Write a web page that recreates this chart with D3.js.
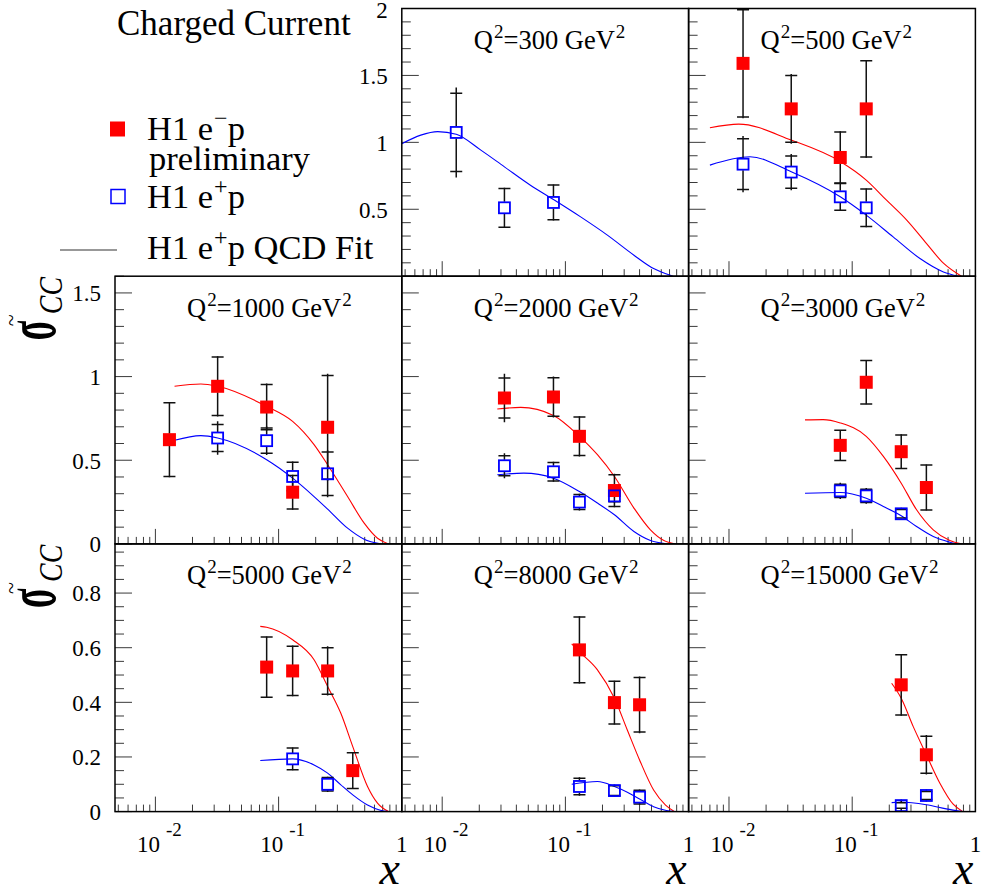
<!DOCTYPE html>
<html>
<head>
<meta charset="utf-8">
<script src="https://cdn.jsdelivr.net/npm/d3@7"></script>
<style>
  body { margin: 0; background: #fff; }
  svg text { font-family: "Liberation Serif", "Times New Roman", serif; fill: #000; }
</style>
</head>
<body>
<svg id="chart" width="985" height="895"></svg>
<script>
// ---- data -------------------------------------------------------------
// Q^2 bins (GeV^2), one panel each, filled after the legend cell of a 3x3 grid
const q2Values = [300, 500, 1000, 2000, 3000, 5000, 8000, 15000];

// y-axis range and ticks for each row of panels
const rowYMax    = [2, 1.6, 0.98];
const rowMajor   = [0.5, 0.5, 0.2];
const rowMinor   = [0.1, 0.1, 0.05];
const rowYLabels = [["0.5", "1", "1.5", "2"], ["0", "0.5", "1", "1.5"], ["0", "0.2", "0.4", "0.6", "0.8"]];

// x-axis (log) range and labelled decades
const xRange = [0.0047, 1];
const xTickValues = [0.01, 0.1, 1];
const xTickBase   = ["10", "10", "1"];
const xTickExp    = ["-2", "-1", ""];

// H1 e-p preliminary: [Q2, x, sigma_CC, stat, total]
const emPoints = [
  [500, 0.013, 1.590, 0.40, 0.41], [500, 0.032, 1.250, 0.25, 0.26], [500, 0.08, 0.887, 0.19, 0.195], [500, 0.13, 1.250, 0.36, 0.365],
  [1000, 0.013, 0.623, 0.22, 0.225], [1000, 0.032, 0.942, 0.175, 0.18], [1000, 0.08, 0.818, 0.135, 0.14], [1000, 0.13, 0.309, 0.10, 0.105], [1000, 0.25, 0.697, 0.31, 0.32],
  [2000, 0.032, 0.872, 0.12, 0.145], [2000, 0.08, 0.878, 0.115, 0.123], [2000, 0.13, 0.643, 0.115, 0.12], [2000, 0.25, 0.319, 0.095, 0.10],
  [3000, 0.08, 0.589, 0.09, 0.092], [3000, 0.13, 0.966, 0.13, 0.132], [3000, 0.25, 0.551, 0.10, 0.104], [3000, 0.40, 0.337, 0.135, 0.137],
  [5000, 0.08, 0.529, 0.11, 0.112], [5000, 0.13, 0.515, 0.09, 0.093], [5000, 0.25, 0.515, 0.085, 0.09], [5000, 0.40, 0.150, 0.065, 0.067],
  [8000, 0.13, 0.592, 0.12, 0.123], [8000, 0.25, 0.399, 0.078, 0.08], [8000, 0.40, 0.391, 0.10, 0.104],
  [15000, 0.25, 0.464, 0.11, 0.113], [15000, 0.40, 0.208, 0.068, 0.072]
];

// H1 e+p: [Q2, x, sigma_CC, stat, total]
const epPoints = [
  [300, 0.013, 1.074, 0.292, 0.336], [300, 0.032, 0.511, 0.145, 0.15], [300, 0.08, 0.551, 0.13, 0.135],
  [500, 0.013, 0.837, 0.19, 0.21], [500, 0.032, 0.778, 0.12, 0.135], [500, 0.08, 0.593, 0.10, 0.105], [500, 0.13, 0.511, 0.14, 0.145],
  [1000, 0.032, 0.633, 0.08, 0.10], [1000, 0.08, 0.617, 0.075, 0.085], [1000, 0.13, 0.403, 0.085, 0.09], [1000, 0.25, 0.419, 0.13, 0.14],
  [2000, 0.032, 0.467, 0.06, 0.075], [2000, 0.08, 0.431, 0.055, 0.06], [2000, 0.13, 0.250, 0.045, 0.05], [2000, 0.25, 0.287, 0.035, 0.04],
  [3000, 0.08, 0.317, 0.04, 0.048], [3000, 0.13, 0.287, 0.04, 0.047], [3000, 0.25, 0.180, 0.025, 0.03],
  [5000, 0.13, 0.193, 0.04, 0.042], [5000, 0.25, 0.100, 0.025, 0.028],
  [8000, 0.13, 0.092, 0.03, 0.034], [8000, 0.25, 0.077, 0.018, 0.02], [8000, 0.40, 0.053, 0.025, 0.028],
  [15000, 0.25, 0.022, 0.01, 0.012], [15000, 0.40, 0.059, 0.015, 0.017]
];

// QCD fit expectation for e-p: [Q2, x, sigma_CC]
const fitEm = [
  [500, 0.007, 1.109], [500, 0.012, 1.136], [500, 0.032, 1.017], [500, 0.08, 0.857], [500, 0.13, 0.718], [500, 0.19, 0.568], [500, 0.277, 0.419], [500, 0.40, 0.246], [500, 0.55, 0.097], [500, 0.77, 0],
  [1000, 0.0143, 0.942], [1000, 0.0234, 0.956], [1000, 0.032, 0.942], [1000, 0.08, 0.822], [1000, 0.13, 0.732], [1000, 0.194, 0.593], [1000, 0.25, 0.473], [1000, 0.363, 0.283], [1000, 0.495, 0.124], [1000, 0.635, 0.034], [1000, 0.78, 0],
  [2000, 0.028, 0.806], [2000, 0.0434, 0.816], [2000, 0.08, 0.768], [2000, 0.13, 0.643], [2000, 0.182, 0.533], [2000, 0.25, 0.403], [2000, 0.36, 0.214], [2000, 0.49, 0.084], [2000, 0.63, 0.02], [2000, 0.77, 0],
  [3000, 0.0414, 0.741], [3000, 0.058, 0.743], [3000, 0.08, 0.723], [3000, 0.13, 0.643], [3000, 0.179, 0.523], [3000, 0.25, 0.363], [3000, 0.333, 0.204], [3000, 0.455, 0.084], [3000, 0.62, 0.02], [3000, 0.77, 0],
  [5000, 0.071, 0.678], [5000, 0.08, 0.675], [5000, 0.13, 0.629], [5000, 0.194, 0.556], [5000, 0.25, 0.458], [5000, 0.32, 0.36], [5000, 0.40, 0.238], [5000, 0.527, 0.092], [5000, 0.635, 0.031], [5000, 0.78, 0],
  [8000, 0.1125, 0.614], [8000, 0.13, 0.585], [8000, 0.182, 0.519], [8000, 0.25, 0.415], [8000, 0.318, 0.299], [8000, 0.40, 0.189], [8000, 0.52, 0.079], [8000, 0.65, 0.024], [8000, 0.77, 0],
  [15000, 0.209, 0.47], [15000, 0.25, 0.415], [15000, 0.313, 0.311], [15000, 0.40, 0.208], [15000, 0.515, 0.104], [15000, 0.66, 0.027], [15000, 0.79, 0]
];

// QCD fit to H1 e+p: [Q2, x, sigma_CC]
const fitEp = [
  [300, 0.0047, 0.99], [300, 0.0067, 1.054], [300, 0.0092, 1.08], [300, 0.013, 1.06], [300, 0.0206, 0.942], [300, 0.032, 0.817], [300, 0.052, 0.68], [300, 0.08, 0.573], [300, 0.133, 0.443], [300, 0.219, 0.307], [300, 0.36, 0.157], [300, 0.52, 0.057], [300, 0.71, 0.007], [300, 0.75, 0],
  [500, 0.007, 0.83], [500, 0.0148, 0.892], [500, 0.032, 0.78], [500, 0.08, 0.593], [500, 0.13, 0.456], [500, 0.215, 0.294], [500, 0.355, 0.132], [500, 0.55, 0.032], [500, 0.73, 0],
  [1000, 0.0143, 0.619], [1000, 0.0234, 0.647], [1000, 0.032, 0.633], [1000, 0.08, 0.503], [1000, 0.13, 0.393], [1000, 0.194, 0.283], [1000, 0.25, 0.208], [1000, 0.363, 0.094], [1000, 0.495, 0.028], [1000, 0.67, 0],
  [2000, 0.028, 0.413], [2000, 0.046, 0.423], [2000, 0.08, 0.393], [2000, 0.13, 0.313], [2000, 0.182, 0.244], [2000, 0.25, 0.174], [2000, 0.36, 0.074], [2000, 0.49, 0.02], [2000, 0.66, 0],
  [3000, 0.0414, 0.303], [3000, 0.08, 0.307], [3000, 0.13, 0.273], [3000, 0.179, 0.224], [3000, 0.25, 0.168], [3000, 0.333, 0.104], [3000, 0.455, 0.044], [3000, 0.62, 0.01], [3000, 0.70, 0],
  [5000, 0.071, 0.187], [5000, 0.13, 0.193], [5000, 0.194, 0.171], [5000, 0.25, 0.141], [5000, 0.32, 0.098], [5000, 0.40, 0.061], [5000, 0.527, 0.024], [5000, 0.67, 0.005], [5000, 0.78, 0],
  [8000, 0.1125, 0.10], [8000, 0.182, 0.11], [8000, 0.25, 0.092], [8000, 0.318, 0.071], [8000, 0.40, 0.046], [8000, 0.52, 0.018], [8000, 0.66, 0.004], [8000, 0.77, 0],
  [15000, 0.209, 0.033], [15000, 0.25, 0.035], [15000, 0.40, 0.025], [15000, 0.58, 0.01], [15000, 0.79, 0]
];

// ---- layout -----------------------------------------------------------
const X0 = 115, COLW = 286.8, Y0 = 8.5, ROWH = 267.7;
const RED = "#ff0000", BLUE = "#0000ff";
const svg = d3.select("#chart");
const defs = svg.append("defs");

// text with raised parts; parts: [[text, isSuperscript], ...]
function supText(sel, size, parts) {
  const supSize = Math.round(size * 0.7), rise = Math.round(size * 0.42);
  parts.forEach(([t, sup], i) => {
    const ts = sel.append("tspan").text(t);
    if (sup) ts.attr("font-size", supSize).attr("dy", -rise).attr("dx", 1);
    else if (i > 0 && parts[i - 1][1]) ts.attr("dy", rise);
  });
}

q2Values.forEach((q2, i) => {
  const cell = i + 1;
  const row = Math.floor(cell / 3), col = cell % 3;
  const left = X0 + col * COLW, right = left + COLW;
  const top = Y0 + row * ROWH, bottom = top + ROWH;

  const x = d3.scaleLog().domain(xRange).range([left, right]);
  const y = d3.scaleLinear().domain([0, rowYMax[row]]).range([bottom, top]);
  const g = svg.append("g");

  const clipId = "clip" + i;
  defs.append("clipPath").attr("id", clipId)
    .append("rect").attr("x", left).attr("y", top).attr("width", COLW).attr("height", ROWH);

  // y ticks (left side, pointing inward)
  const ymax = rowYMax[row];
  const minorY = d3.range(0, ymax + 1e-6, rowMinor[row]);
  const ticks = g.append("g").attr("stroke", "#3a3a3a").attr("stroke-width", 1);
  minorY.forEach(v => {
    const major = Math.abs(v / rowMajor[row] - Math.round(v / rowMajor[row])) < 1e-6;
    ticks.append("line").attr("x1", left).attr("x2", left + (major ? 17 : 9))
      .attr("y1", y(v)).attr("y2", y(v));
  });

  // x ticks (bottom, pointing inward)
  [0.001, 0.01, 0.1].forEach(d => {
    d3.range(1, 10).forEach(k => {
      const v = d * k;
      if (v < xRange[0] || v >= xRange[1]) return;
      const major = k === 1;
      ticks.append("line").attr("x1", x(v)).attr("x2", x(v))
        .attr("y1", bottom).attr("y2", bottom - (major ? 15 : 7));
    });
  });

  // y tick labels on the first panel of each row
  const firstInRow = (row === 0 && col === 1) || (row > 0 && col === 0);
  if (firstInRow) {
    rowYLabels[row].forEach(lbl => {
      g.append("text").attr("x", left - 14).attr("y", Math.max(y(+lbl), 10)).attr("dy", "0.36em")
        .attr("text-anchor", "end").attr("font-size", 23).text(lbl);
    });
  }

  // x tick labels and axis title on the bottom row
  if (row === 2) {
    xTickValues.forEach((v, k) => {
      const t = g.append("text").attr("x", x(v) + (xTickExp[k] ? 4 : 0)).attr("y", 852)
        .attr("text-anchor", "middle").attr("font-size", 23);
      t.append("tspan").text(xTickBase[k]);
      if (xTickExp[k]) t.append("tspan").attr("font-size", 19).attr("dx", 6).attr("dy", -16).text(xTickExp[k]);
    });
    g.append("text").attr("x", right - 2).attr("y", 884).attr("text-anchor", "end")
      .attr("font-size", 46).attr("font-style", "italic").text("x");
  }

  // panel title
  const title = g.append("text").attr("x", left + 72).attr("y", top + 40.5).attr("font-size", 26.5);
  supText(title, 26.5, [["Q", false], ["2", true], ["=" + q2 + " GeV", false], ["2", true]]);

  const plot = g.append("g").attr("clip-path", `url(#${clipId})`);
  const line = d3.line().x(d => x(d[1])).y(d => y(d[2])).curve(d3.curveMonotoneX);

  // fit curves
  [[fitEm, RED], [fitEp, BLUE]].forEach(([rows, color]) => {
    const pts = rows.filter(r => r[0] === q2);
    if (pts.length) plot.append("path").datum(pts).attr("d", line)
      .attr("fill", "none").attr("stroke", color).attr("stroke-width", 1.1);
  });

  // error bars: caps mark the statistical error, the line the total error
  const half = 6;
  [emPoints, epPoints].forEach(rows => {
    rows.filter(r => r[0] === q2).forEach(r => {
      const px = x(r[1]), py = y(r[2]);
      const eb = plot.append("g").attr("stroke", "#111").attr("stroke-width", 1.5);
      eb.append("line").attr("x1", px).attr("x2", px).attr("y1", y(r[2] + r[4])).attr("y2", py - half);
      eb.append("line").attr("x1", px).attr("x2", px).attr("y1", py + half).attr("y2", y(r[2] - r[4]));
      [r[2] + r[3], r[2] - r[3]].forEach(v => {
        eb.append("line").attr("x1", px - 6).attr("x2", px + 6).attr("y1", y(v)).attr("y2", y(v));
      });
    });
  });

  // markers
  plot.selectAll(".em").data(emPoints.filter(r => r[0] === q2)).join("rect")
    .attr("x", d => x(d[1]) - 6.5).attr("y", d => y(d[2]) - 6.5)
    .attr("width", 13).attr("height", 13).attr("fill", RED);
  plot.selectAll(".ep").data(epPoints.filter(r => r[0] === q2)).join("rect")
    .attr("x", d => x(d[1]) - 5.5).attr("y", d => y(d[2]) - 5.5)
    .attr("width", 11).attr("height", 11).attr("fill", "none")
    .attr("stroke", BLUE).attr("stroke-width", 1.8);

  // frame
  g.append("rect").attr("x", left).attr("y", top).attr("width", COLW).attr("height", ROWH)
    .attr("fill", "none").attr("stroke", "#000").attr("stroke-width", 1.5);
});

// ---- y-axis titles ----------------------------------------------------
[1, 2].forEach(row => {
  const top = Y0 + row * ROWH;
  const t = svg.append("g").attr("transform", `translate(55,${top + 64}) rotate(-90)`);
  t.append("text").attr("x", 0).attr("y", 0).attr("font-size", 72).attr("font-weight", "bold")
    .attr("transform", "scale(0.5,1)").text("σ");
  t.append("text").attr("x", 14).attr("y", -37).attr("font-size", 22).text("~");
  t.append("text").attr("x", 26).attr("y", 7).attr("font-size", 34).attr("font-style", "italic")
    .attr("transform", "translate(26,0) scale(0.82,1) translate(-26,0)").text("CC");
});

// ---- legend -----------------------------------------------------------
const lg = svg.append("g");
const LF = 34.5;
lg.append("text").attr("x", 117).attr("y", 35).attr("font-size", 35).text("Charged Current");
lg.append("rect").attr("x", 110).attr("y", 121.5).attr("width", 15).attr("height", 15).attr("fill", RED);
const l1 = lg.append("text").attr("x", 147).attr("y", 140).attr("font-size", LF);
supText(l1, LF, [["H1 e", false], ["\u2212", true], ["p", false]]);
lg.append("text").attr("x", 149).attr("y", 170).attr("font-size", LF).text("preliminary");
lg.append("rect").attr("x", 111).attr("y", 189.5).attr("width", 14).attr("height", 14)
  .attr("fill", "none").attr("stroke", BLUE).attr("stroke-width", 1.5);
const l2 = lg.append("text").attr("x", 147).attr("y", 208).attr("font-size", LF);
supText(l2, LF, [["H1 e", false], ["+", true], ["p", false]]);
lg.append("line").attr("x1", 60).attr("x2", 117).attr("y1", 250).attr("y2", 250)
  .attr("stroke", "#333").attr("stroke-width", 1.2);
const l3 = lg.append("text").attr("x", 147).attr("y", 259).attr("font-size", LF);
supText(l3, LF, [["H1 e", false], ["+", true], ["p QCD Fit", false]]);
</script>
</body>
</html>
